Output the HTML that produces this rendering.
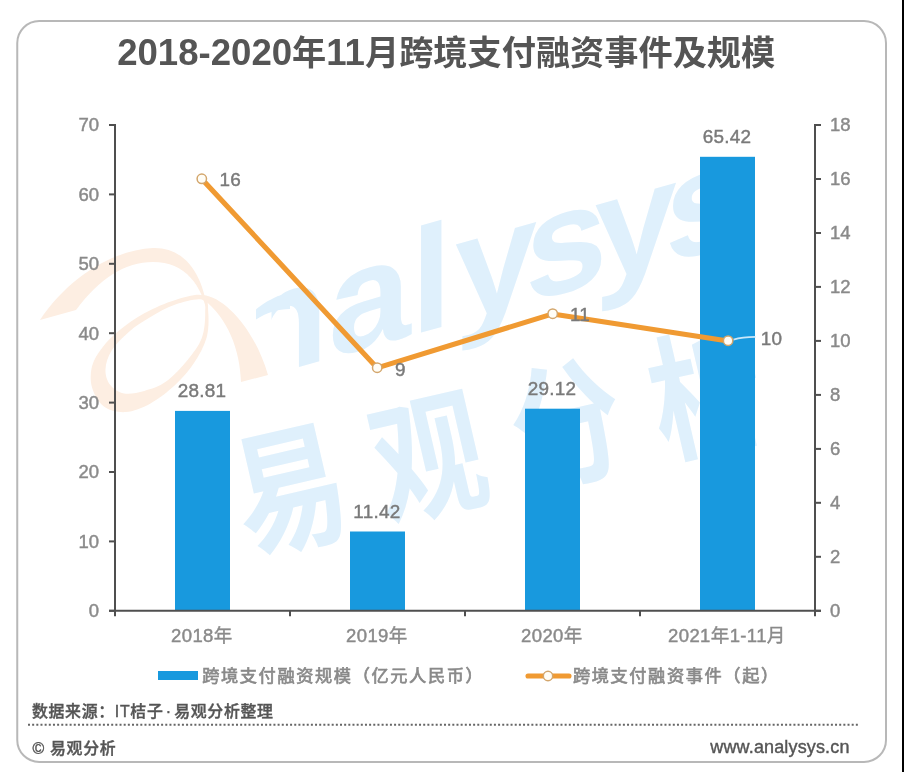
<!DOCTYPE html>
<html lang="zh-CN"><head><meta charset="utf-8"><title>2018-2020年11月跨境支付融资事件及规模</title>
<style>
html,body{margin:0;padding:0;background:#fff;}
body{width:904px;height:772px;overflow:hidden;position:relative;font-family:"Liberation Sans", "Noto Sans CJK SC", sans-serif;}
svg{position:absolute;left:0;top:0;display:block;}
text{font-family:"Liberation Sans", "Noto Sans CJK SC", sans-serif;}
.ax{fill:#8a8a8a;font-size:18.5px;stroke:#8a8a8a;stroke-width:0.45px;}
.dl{fill:#7a7a7a;font-size:18.9px;letter-spacing:0.25px;stroke:#7a7a7a;stroke-width:0.45px;}
.lg{fill:#8a8a8a;font-size:17.2px;letter-spacing:1.62px;stroke:#8a8a8a;stroke-width:0.7px;}
.ft{fill:#555;font-size:15.9px;font-weight:500;letter-spacing:0.7px;stroke:#555;stroke-width:0.4px;}
.ttl{fill:#555;font-size:34.2px;font-weight:700;}
.tn{font-size:36.6px;}
</style></head><body>
<svg width="904" height="772" viewBox="0 0 904 772">
<rect x="0" y="0" width="904" height="772" fill="#fff"/>
<rect x="902" y="0" width="2" height="772" fill="#000"/>
<g id="wm" opacity="1">
<text transform="translate(238,384) skewY(-15.7)" font-size="148" font-weight="700" fill="#dff0fc">nal<tspan dx="3">y</tspan><tspan dx="-12">s</tspan><tspan dx="-13">y</tspan><tspan dx="-12">s</tspan></text>
<text transform="translate(247,551) rotate(-13) scale(0.9,1.1)" font-size="124" font-weight="700" fill="#dff0fc" letter-spacing="34">易观分析</text>
<path d="M230,286 H271.5 V392 H230 Z" fill="#fff"/>
<path d="M256,309.5 C261,305 268,300.5 278,296 L290,293 V309 C278,309 266,313 256,319.5 Z" fill="#dff0fc"/>
<g fill="#fdeee2">
<path d="M40,320 C70,275 115,250 153,248 C185,247 205,275 208,318 C203,285 185,262 153,262 C125,262 100,278 76,310 Z"/>
<path fill-rule="evenodd" d="M208.3,313.2 C208.8,320.3 208.8,329.8 206.5,338.1 C204.1,346.4 199.2,355.2 194.0,363.0 C188.8,370.7 182.6,378.0 175.4,384.7 C168.1,391.4 158.8,398.8 150.5,403.4 C142.2,407.9 133.4,411.5 125.7,412.1 C117.9,412.6 109.5,410.5 103.9,406.5 C98.3,402.4 94.1,394.5 92.1,387.8 C90.1,381.1 90.4,372.8 92.1,366.1 C93.8,359.3 97.8,353.4 102.4,347.4 C106.9,341.5 112.5,336.0 119.4,330.3 C126.4,324.6 135.0,318.3 144.3,313.2 C153.6,308.2 165.5,302.8 175.4,299.9 C185.2,296.9 197.9,293.3 203.4,295.5 C208.8,297.7 207.8,306.1 208.3,313.2 Z M205.2,313.2 C205.2,319.7 204.7,330.3 201.8,338.1 C198.9,345.9 193.8,352.6 187.8,359.8 C181.9,367.1 173.3,376.4 166.1,381.6 C158.8,386.8 151.3,389.0 144.3,390.9 C137.3,392.9 129.8,394.4 124.1,393.4 C118.4,392.4 113.2,388.7 110.1,384.7 C107.0,380.7 105.2,374.9 105.5,369.2 C105.7,363.5 107.8,356.7 111.7,350.5 C115.6,344.3 122.3,337.5 128.8,331.9 C135.2,326.3 142.8,321.5 150.5,317.0 C158.3,312.4 166.8,307.4 175.4,304.5 C183.9,301.6 196.8,298.1 201.8,299.6 C206.8,301.0 205.2,306.8 205.2,313.2 Z"/>
<path d="M203,295 C225,297 255,330 268,375 L241,382 C240,350 228,318 203,299 Z"/>
</g>
</g>
<rect x="17.25" y="21" width="868.75" height="741" rx="22" ry="22" fill="none" stroke="#b8b8b8" stroke-width="2"/>
<text class="ttl" x="446.2" y="64.5" text-anchor="middle"><tspan class="tn">2018-2020</tspan>年<tspan class="tn">11</tspan>月跨境支付融资事件及规模</text>
<rect x="175.0" y="410.9" width="55" height="199.9" fill="#1899de"/>
<rect x="350.0" y="531.5" width="55" height="79.3" fill="#1899de"/>
<rect x="525.0" y="408.7" width="55" height="202.1" fill="#1899de"/>
<rect x="700.0" y="156.8" width="55" height="454.0" fill="#1899de"/>
<g stroke="#4f4f4f" stroke-width="2" fill="none">
<path d="M115,124.0 V611.8"/>
<path d="M815,124.0 V611.8"/>
<path d="M109,610.8 H821"/>
</g>
<g stroke="#4f4f4f" stroke-width="2" fill="none">
<path d="M109,610.8 H115"/>
<path d="M109,541.4 H115"/>
<path d="M109,472.0 H115"/>
<path d="M109,402.6 H115"/>
<path d="M109,333.2 H115"/>
<path d="M109,263.8 H115"/>
<path d="M109,194.4 H115"/>
<path d="M109,125.0 H115"/>
<path d="M815,610.8 H821"/>
<path d="M815,556.8 H821"/>
<path d="M815,502.8 H821"/>
<path d="M815,448.9 H821"/>
<path d="M815,394.9 H821"/>
<path d="M815,340.9 H821"/>
<path d="M815,286.9 H821"/>
<path d="M815,233.0 H821"/>
<path d="M815,179.0 H821"/>
<path d="M815,125.0 H821"/>
<path d="M115.0,610.8 V616.3"/>
<path d="M290.0,610.8 V616.3"/>
<path d="M465.0,610.8 V616.3"/>
<path d="M640.0,610.8 V616.3"/>
<path d="M815.0,610.8 V616.3"/>
</g>
<text class="ax" x="99" y="617.1" text-anchor="end">0</text>
<text class="ax" x="99" y="547.7" text-anchor="end">10</text>
<text class="ax" x="99" y="478.3" text-anchor="end">20</text>
<text class="ax" x="99" y="408.9" text-anchor="end">30</text>
<text class="ax" x="99" y="339.5" text-anchor="end">40</text>
<text class="ax" x="99" y="270.1" text-anchor="end">50</text>
<text class="ax" x="99" y="200.7" text-anchor="end">60</text>
<text class="ax" x="99" y="131.3" text-anchor="end">70</text>
<text class="ax" x="830" y="616.9">0</text>
<text class="ax" x="830" y="562.9">2</text>
<text class="ax" x="830" y="508.9">4</text>
<text class="ax" x="830" y="455.0">6</text>
<text class="ax" x="830" y="401.0">8</text>
<text class="ax" x="830" y="347.0">10</text>
<text class="ax" x="830" y="293.0">12</text>
<text class="ax" x="830" y="239.1">14</text>
<text class="ax" x="830" y="185.1">16</text>
<text class="ax" x="830" y="131.1">18</text>
<text class="ax" x="201.9" y="641.5" text-anchor="middle" letter-spacing="0.38">2018年</text>
<text class="ax" x="376.9" y="641.5" text-anchor="middle" letter-spacing="0.38">2019年</text>
<text class="ax" x="551.9" y="641.5" text-anchor="middle" letter-spacing="0.38">2020年</text>
<text class="ax" x="726.9" y="641.5" text-anchor="middle" letter-spacing="0.38">2021年1-11月</text>
<text class="dl" x="201.9" y="397.0" text-anchor="middle">28.81</text>
<text class="dl" x="376.9" y="517.6" text-anchor="middle">11.42</text>
<text class="dl" x="551.9" y="394.8" text-anchor="middle">29.12</text>
<text class="dl" x="726.9" y="142.9" text-anchor="middle">65.42</text>
<polyline points="201.8,179.0 377.2,367.9 552.7,313.9 728.1,340.9" fill="none" stroke="#f09a32" stroke-width="5.1" stroke-linejoin="round" stroke-linecap="round"/>
<path d="M733.5,339.6 C740,337.6 747,336.9 755.5,336.9" fill="none" stroke="#c9e7f9" stroke-width="1.7"/>
<circle cx="201.8" cy="178.8" r="4.7" fill="#fffdf6" stroke="#d3a66c" stroke-width="1.5"/>
<circle cx="377.2" cy="367.7" r="4.7" fill="#fffdf6" stroke="#d3a66c" stroke-width="1.5"/>
<circle cx="552.7" cy="313.7" r="4.7" fill="#fffdf6" stroke="#d3a66c" stroke-width="1.5"/>
<circle cx="728.1" cy="340.7" r="4.7" fill="#fffdf6" stroke="#d3a66c" stroke-width="1.5"/>
<text class="dl" x="219.5" y="186.4">16</text>
<text class="dl" x="395.0" y="375.8">9</text>
<text class="dl" x="570.0" y="321.2">11</text>
<text class="dl" x="760.8" y="344.7">10</text>
<rect x="158" y="671" width="40" height="9" fill="#1899de"/>
<text class="lg" x="202.2" y="682">跨境支付融资规模（亿元人民币）</text>
<path d="M528,676 H569" stroke="#f09a32" stroke-width="5.1" stroke-linecap="round" fill="none"/>
<circle cx="548" cy="676" r="4.7" fill="#fffdf6" stroke="#d3a66c" stroke-width="1.5"/>
<text class="lg" x="572.9" y="682">跨境支付融资事件（起）</text>
<text class="ft" x="31.9" y="717">数据来源：IT桔子<tspan dx="2.3">·</tspan><tspan dx="2.3">易</tspan>观分析整理</text>
<path d="M28,724.7 H860" stroke="#666" stroke-width="2" stroke-dasharray="2 2.16" fill="none"/>
<text class="ft" x="32.5" y="754.3">© 易观分析</text>
<text class="ft" x="849.6" y="753.1" text-anchor="end" style="font-size:18px;letter-spacing:0.15px">www.analysys.cn</text>
</svg>
</body></html>
